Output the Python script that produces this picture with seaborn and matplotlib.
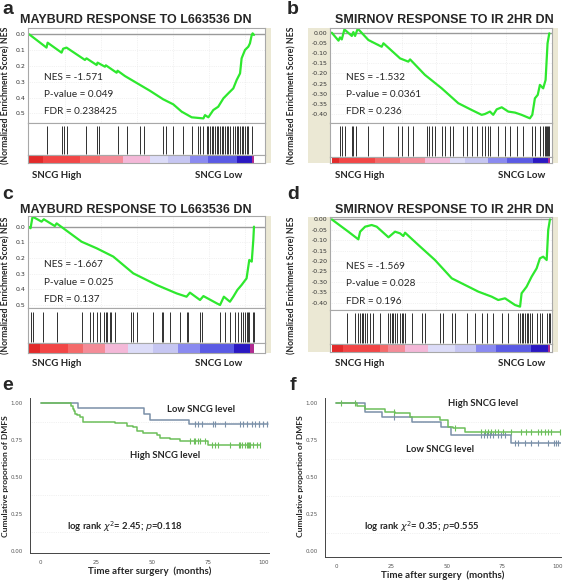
import numpy as np
import pandas as pd
import matplotlib
matplotlib.use('Agg')
import matplotlib.pyplot as plt
import seaborn as sns

# ---------------- GSEA panels (x = rank fraction of the ordered gene list) ----------------
es_a_x = [0, 0.077, 0.082, 0.144, 0.151, 0.166, 0.248, 0.255, 0.300, 0.304, 0.337, 0.341, 0.389, 0.393,
          0.426, 0.537, 0.596, 0.641, 0.678, 0.723, 0.775, 0.782, 0.797, 0.819, 0.841, 0.864, 0.886,
          0.908, 0.923, 0.938, 0.945, 0.960, 0.975, 0.982, 0.990, 0.994, 1.0]
es_a_y = [0, -0.084, -0.053, -0.116, -0.091, -0.084, -0.162, -0.152, -0.194, -0.179, -0.205, -0.196,
          -0.243, -0.230, -0.264, -0.357, -0.411, -0.443, -0.489, -0.525, -0.532, -0.511, -0.525,
          -0.479, -0.458, -0.405, -0.373, -0.342, -0.289, -0.247, -0.152, -0.099, -0.078, -0.057,
          -0.004, 0.006, -0.004]
hits_a = [0.077, 0.148, 0.156, 0.166, 0.252, 0.303, 0.312, 0.396, 0.433, 0.493, 0.510, 0.596, 0.608,
          0.641, 0.682, 0.723, 0.752, 0.760, 0.774, 0.789, 0.797, 0.804, 0.812, 0.819, 0.826, 0.834,
          0.841, 0.849, 0.856, 0.864, 0.871, 0.878, 0.886, 0.893, 0.908, 0.915, 0.923, 0.930, 0.938,
          0.945, 0.953, 0.960, 0.967, 0.975, 0.990]
bar_a = [0, 0.062, 0.226, 0.315, 0.418, 0.537, 0.619, 0.715, 0.797, 0.923, 0.990, 1.0]

es_b_x = [0, 0.031, 0.038, 0.046, 0.058, 0.092, 0.099, 0.107, 0.119, 0.168, 0.229, 0.237, 0.305,
          0.313, 0.351, 0.359, 0.427, 0.504, 0.580, 0.641, 0.687, 0.702, 0.725, 0.740, 0.756, 0.779,
          0.809, 0.840, 0.870, 0.908, 0.919, 0.931, 0.944, 0.954, 0.969, 0.980, 0.989, 0.997]
es_b_y = [0, -0.039, -0.023, -0.033, 0.016, -0.016, 0.003, -0.016, 0.020, -0.036, -0.069, -0.052,
          -0.118, -0.126, -0.142, -0.131, -0.207, -0.273, -0.346, -0.379, -0.403, -0.399, -0.387,
          -0.403, -0.376, -0.366, -0.387, -0.392, -0.403, -0.420, -0.403, -0.322, -0.305, -0.256,
          -0.273, -0.232, -0.052, -0.003]
hits_b = [0.038, 0.046, 0.061, 0.092, 0.099, 0.110, 0.168, 0.237, 0.305, 0.321, 0.351, 0.374, 0.435,
          0.446, 0.458, 0.473, 0.504, 0.519, 0.542, 0.557, 0.603, 0.618, 0.641, 0.664, 0.687, 0.702,
          0.718, 0.725, 0.763, 0.794, 0.817, 0.847, 0.878, 0.916, 0.931, 0.954, 0.969, 0.977, 0.980,
          0.985, 0.989, 0.995]
bar_b = [0, 0.031, 0.198, 0.313, 0.427, 0.542, 0.611, 0.718, 0.802, 0.924, 0.992, 1.0]

es_c_x = [0, 0.006, 0.015, 0.055, 0.065, 0.114, 0.122, 0.233, 0.300, 0.374, 0.463, 0.567, 0.656,
          0.700, 0.715, 0.760, 0.775, 0.834, 0.849, 0.866, 0.893, 0.908, 0.926, 0.945, 0.967, 0.979,
          0.990, 0.997, 1.0]
es_c_y = [-0.004, -0.010, 0.064, 0.032, 0.047, 0.004, 0.021, -0.096, -0.138, -0.191, -0.298, -0.372,
          -0.426, -0.447, -0.421, -0.468, -0.443, -0.489, -0.500, -0.447, -0.479, -0.447, -0.404,
          -0.372, -0.330, -0.213, -0.223, -0.085, 0.0]
hits_c = [0.010, 0.015, 0.062, 0.122, 0.233, 0.270, 0.285, 0.300, 0.315, 0.332, 0.341, 0.347, 0.359,
          0.366, 0.381, 0.455, 0.463, 0.478, 0.552, 0.589, 0.596, 0.626, 0.671, 0.700, 0.708, 0.760,
          0.767, 0.849, 0.871, 0.893, 0.915, 0.930, 0.941, 0.953, 0.960, 0.967, 0.975, 0.979, 0.997, 1.0]
bar_c = [0, 0.047, 0.174, 0.240, 0.337, 0.441, 0.552, 0.663, 0.760, 0.909, 0.982, 1.0]

es_d_x = [0, 0.076, 0.122, 0.130, 0.153, 0.183, 0.206, 0.260, 0.290, 0.313, 0.328, 0.336, 0.397,
          0.473, 0.550, 0.611, 0.672, 0.733, 0.763, 0.794, 0.840, 0.863, 0.870, 0.893, 0.916, 0.939,
          0.954, 0.969, 0.985, 0.992, 1.0]
es_d_y = [0, -0.059, -0.096, -0.059, -0.035, -0.027, -0.035, -0.086, -0.059, -0.067, -0.080, -0.064,
          -0.123, -0.195, -0.283, -0.315, -0.347, -0.371, -0.387, -0.379, -0.411, -0.419, -0.355,
          -0.323, -0.275, -0.235, -0.187, -0.179, -0.195, -0.051, 0.0]
hits_d = [0.069, 0.107, 0.122, 0.130, 0.137, 0.145, 0.153, 0.160, 0.176, 0.191, 0.221, 0.260, 0.267,
          0.275, 0.282, 0.290, 0.298, 0.313, 0.321, 0.328, 0.336, 0.366, 0.412, 0.427, 0.496, 0.511,
          0.550, 0.565, 0.618, 0.656, 0.687, 0.710, 0.740, 0.779, 0.809, 0.855, 0.863, 0.870, 0.878,
          0.885, 0.893, 0.901, 0.908, 0.916, 0.939, 0.954, 0.962, 0.985, 0.995, 1.0]
bar_d = [0, 0.053, 0.221, 0.260, 0.335, 0.441, 0.563, 0.662, 0.753, 0.913, 0.989, 1.0]

bar_colors = ['#e22a2a', '#f24646', '#f46a6a', '#f48c98', '#f4b8d8', '#dcdcf8', '#c6c6f2',
              '#8a8af0', '#5a5ae4', '#2a18c2', '#b02a90']

titles = ['MAYBURD RESPONSE TO L663536 DN', 'SMIRNOV RESPONSE TO IR 2HR DN',
          'MAYBURD RESPONSE TO L663536 DN', 'SMIRNOV RESPONSE TO IR 2HR DN']
stats = [['NES = -1.571', 'P-value = 0.049', 'FDR = 0.238425'],
         ['NES = -1.532', 'P-value = 0.0361', 'FDR = 0.236'],
         ['NES = -1.667', 'P-value = 0.025', 'FDR = 0.137'],
         ['NES = -1.569', 'P-value = 0.028', 'FDR = 0.196']]
ticks_ac = [0, -0.1, -0.2, -0.3, -0.4, -0.5]
labels_ac = ['0.0', '0.1', '0.2', '0.3', '0.4', '0.5']
ticks_bd = [0, -0.05, -0.10, -0.15, -0.20, -0.25, -0.30, -0.35, -0.40]
labels_bd = ['0.00', '-0.05', '-0.10', '-0.15', '-0.20', '-0.25', '-0.30', '-0.35', '-0.40']

# ---------------- Kaplan-Meier panels (months, survival) ----------------
e_low_t = [0, 16.6, 46.6, 49.2, 66.7, 102]
e_low_s = [1.0, 0.966, 0.925, 0.887, 0.857, 0.857]
e_low_cens = [69.4, 70.9, 72.4, 77.6, 78.4, 82.9, 89.6, 91.1, 92.6, 94.9, 96.4, 97.9, 98.2, 100.1, 101.9]
e_high_t = [0, 13.6, 14.4, 15.0, 15.6, 16.5, 17.7, 19.2, 33.4, 38.7, 41.7, 43.2, 46.2, 52.2, 53.6,
            58.2, 62.7, 75.4, 98.6]
e_high_s = [1.0, 0.98, 0.96, 0.945, 0.927, 0.918, 0.909, 0.875, 0.864, 0.846, 0.837, 0.814, 0.796,
            0.785, 0.767, 0.756, 0.744, 0.717, 0.717]
e_high_cens = [67.2, 68.7, 69.4, 70.9, 71.7, 73.9, 76.9, 78.4, 79.9, 85.2, 88.9, 89.6, 90.4, 91.9,
               92.6, 93.1, 93.4, 94.1, 95.6, 97.2, 98.6]

f_high_t = [0, 9.3, 13.1, 22.1, 26.6, 33.4, 47.0, 50.7, 53.0, 58.2, 101.5]
f_high_s = [1.0, 0.98, 0.959, 0.941, 0.930, 0.908, 0.885, 0.840, 0.829, 0.806, 0.806]
f_high_cens = [2.3, 8.6, 26.1, 53.6, 65.7, 67.2, 68.7, 70.2, 71.7, 73.2, 75.4, 79.2, 83.7, 86.0, 88.2,
               91.2, 92.7, 94.2, 95.7, 97.2, 101.0]
f_low_t = [0, 13.1, 20.6, 34.5, 47.6, 52.1, 79.2, 101.5]
f_low_s = [1.0, 0.937, 0.908, 0.874, 0.84, 0.784, 0.727, 0.727]
f_low_cens = [26.1, 65.7, 66.9, 68.0, 69.5, 71.0, 73.2, 74.7, 76.2, 80.7, 82.2, 85.2, 88.2, 91.2, 95.7,
              98.4, 99.5, 100.2]

km_yticks = [0, 0.25, 0.5, 0.75, 1.0]
km_ylabels = ['0.00', '0.25', '0.50', '0.75', '1.00']
km_xticks = [0, 25, 50, 75, 100]

# ---------------- figure ----------------
sns.set_style('white')
plt.rcParams['font.family'] = ['Lato', 'DejaVu Sans']

W, H = 567, 585
fig = plt.figure(figsize=(W / 100, H / 100), dpi=100)

def box(x0, y0, x1, y1):
    return [x0 / W, 1 - y1 / H, (x1 - x0) / W, (y1 - y0) / H]

def ftext(x, y, s, **kw):
    fig.text(x / W, 1 - y / H, s, **kw)

GREEN = '#2ee82e'
FRAME = '#a8a8a8'
BEIGE = '#ebe8d4'

def strip(x0, y0, x1, y1):
    b = fig.add_axes(box(x0, y0, x1, y1))
    b.set_facecolor(BEIGE); b.set_xticks([]); b.set_yticks([])
    for s in b.spines.values():
        s.set_visible(False)

def gsea(ox, oy, es_box, hit_y, bar_y, xlim, ylim, ticks, tlabels, ex, ey, hits, edges, st, left_beige):
    x0, y0, x1, y1 = es_box
    if left_beige:
        strip(ox + 23, oy + y0, ox + x0, oy + bar_y[1])
    strip(ox + x1, oy + y0, ox + x1 + 6, oy + bar_y[1])

    ax = fig.add_axes(box(ox + x0, oy + y0, ox + x1, oy + y1))
    df = pd.DataFrame({'rank': ex, 'es': ey})
    ax.axhline(0, color='#9a9a9a', lw=1.0, zorder=1)
    for g in np.arange(0.16, 1.0, 0.16):
        ax.axvline(g, color='#e6e6e6', lw=0.5, ls=':', zorder=0)
    for t in ticks[1:]:
        ax.axhline(t, color='#e6e6e6', lw=0.5, ls=':', zorder=0)
    sns.lineplot(data=df, x='rank', y='es', estimator=None, sort=False, color=GREEN, lw=1.6, ax=ax)
    ax.set_xlim(xlim); ax.set_ylim(ylim)
    ax.set_xticks([])
    ax.set_yticks(ticks)
    ax.set_yticklabels(tlabels, fontsize=4.5, color='#333333', family='DejaVu Sans')
    ax.tick_params(axis='y', length=0, pad=2)
    ax.set_xlabel(''); ax.set_ylabel('')
    for s in ax.spines.values():
        s.set_color(FRAME); s.set_linewidth(0.8)
    for i, s in enumerate(st):
        ftext(ox + x0 + 16, oy + 77 + 17.5 * i + (y0 - 28), s, fontsize=7.2, va='center')

    hx = fig.add_axes(box(ox + x0, oy + hit_y[0], ox + x1, oy + hit_y[1]))
    hx.vlines(hits, 0.04, 0.9, color='#303030', lw=0.7)
    hx.set_xlim(xlim); hx.set_ylim(0, 1)
    hx.set_xticks([]); hx.set_yticks([])
    for s in hx.spines.values():
        s.set_color(FRAME); s.set_linewidth(0.8)

    cb = fig.add_axes(box(ox + x0, oy + bar_y[0], ox + x1, oy + bar_y[1]))
    cb.bar(edges[:-1], 1, width=np.diff(edges), align='edge', color=bar_colors, lw=0)
    cb.set_xlim(xlim); cb.set_ylim(0, 1)
    cb.set_xticks([]); cb.set_yticks([])
    for s in cb.spines.values():
        s.set_color(FRAME); s.set_linewidth(0.8)

gsea(0, 0, (28.3, 28, 265, 123), (123, 155), (155, 163), (-0.004, 1.049), (-0.561, 0.040),
     ticks_ac, labels_ac, es_a_x, es_a_y, hits_a, bar_a, stats[0], False)
gsea(285, 0, (45, 28, 266.7, 123), (123, 157), (157, 163), (-0.008, 1.008), (-0.443, 0.023),
     ticks_bd, labels_bd, es_b_x, es_b_y, hits_b, bar_b, stats[1], True)
gsea(0, 190, (28.3, 26, 265, 118.3), (118.3, 153), (153, 163), (-0.004, 1.049), (-0.521, 0.068),
     ticks_ac, labels_ac, es_c_x, es_c_y, hits_c, bar_c, stats[2], False)
gsea(285, 190, (45, 27.3, 266.7, 120), (120, 154), (154, 162), (-0.008, 1.008), (-0.435, 0.010),
     ticks_bd, labels_bd, es_d_x, es_d_y, hits_d, bar_d, stats[3], True)

# panel letters, titles, side labels
for (lx, ly, letter) in [(8, 9, 'a'), (293, 9, 'b'), (8, 195, 'c'), (293, 195, 'd'), (8, 386, 'e'), (293, 386, 'f')]:
    ftext(lx, ly, letter, fontsize=14, fontweight='bold', family='Liberation Sans', ha='center', va='center')
for (tx, ty), t in zip([(136, 20), (444, 20), (136, 210), (444, 210)], titles):
    ftext(tx, ty, t, fontsize=9, fontweight='bold', family='Liberation Sans', ha='center', va='center')
for (cx, cy) in [(6, 95), (292, 95), (6, 285), (292, 285)]:
    ftext(cx, cy, '(Normalized Enrichment Score) NES', fontsize=6.2, fontweight='bold', rotation=90,
          ha='center', va='center')
for (hx_, lx_, y_) in [(32, 195, 175), (335, 498, 175), (32, 195, 364), (335, 498, 364)]:
    ftext(hx_, y_, 'SNCG High', fontsize=7, fontweight='bold', va='center')
    ftext(lx_, y_, 'SNCG Low', fontsize=7, fontweight='bold', va='center')

# ---------------- KM panels ----------------
KM_GREEN = '#6cbf5a'
KM_BLUE = '#7a90a8'

def km(axbox, xlim, ylim, curves, texts):
    ax = fig.add_axes(box(*axbox))
    for yv in [0.125, 0.375, 0.625, 0.875]:
        ax.axhline(yv, color='#e4e4e4', lw=0.5, ls=':', zorder=0)
    for t, s, cens, col in curves:
        df = pd.DataFrame({'t': t, 's': s})
        sns.lineplot(data=df, x='t', y='s', estimator=None, drawstyle='steps-post', color=col, lw=1.1, ax=ax)
        idx = np.searchsorted(np.array(t), np.array(cens), side='right') - 1
        cy = np.array(s)[idx]
        sns.scatterplot(x=cens, y=cy, marker='|', s=22, color=col, linewidth=0.8, ax=ax)
    ax.set_xlim(xlim); ax.set_ylim(ylim)
    ax.set_xticks(km_xticks)
    ax.set_xticklabels([str(v) for v in km_xticks], fontsize=4, color='#555555', family='DejaVu Sans')
    ax.set_yticks(km_yticks)
    ax.set_yticklabels(km_ylabels, fontsize=4, color='#555555', family='DejaVu Sans')
    ax.tick_params(length=2, width=0.5, color='#555555', pad=3)
    for side in ['top', 'right']:
        ax.spines[side].set_visible(False)
    for side in ['left', 'bottom']:
        ax.spines[side].set_color('#444444'); ax.spines[side].set_linewidth(0.7)
    ax.set_xlabel('Time after surgery  (months)', fontsize=7, fontweight='bold', labelpad=1)
    ax.set_ylabel('')
    for x, y, s in texts:
        ax.text(x, y, s, fontsize=6.8, fontweight='bold', va='center')
    return ax

km((30, 398, 269, 553), (-4.8, 102.6), (-0.016, 1.036),
   [(e_low_t, e_low_s, e_low_cens, KM_BLUE), (e_high_t, e_high_s, e_high_cens, KM_GREEN)],
   [(56.7, 0.961, 'Low SNCG level'), (40.1, 0.649, 'High SNCG level'),
    (11.8, 0.161, r'log rank $\chi^2$= 2.45; $p$=0.118')])
km((325, 398, 561, 556.7), (-4.96, 101.6), (-0.038, 1.034),
   [(f_low_t, f_low_s, f_low_cens, KM_BLUE), (f_high_t, f_high_s, f_high_cens, KM_GREEN)],
   [(50.5, 1.0, 'High SNCG level'), (31.4, 0.687, 'Low SNCG level'),
    (12.6, 0.164, r'log rank $\chi^2$= 0.35; $p$=0.555')])
for cx in [6, 301]:
    ftext(cx, 476, 'Cumulative proportion of DMFS', fontsize=6.1, fontweight='bold', rotation=90,
          ha='center', va='center')

fig.savefig('out.png', dpi=100)
